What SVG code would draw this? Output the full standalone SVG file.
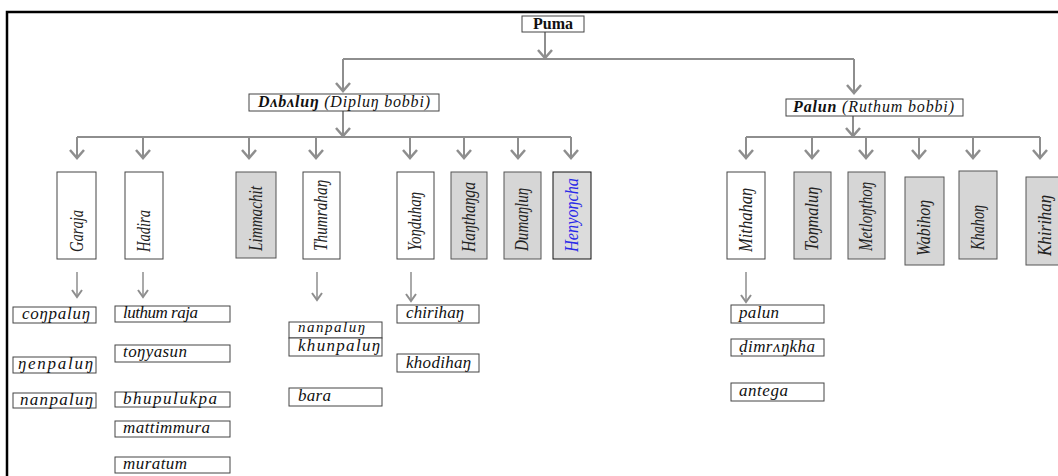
<svg xmlns="http://www.w3.org/2000/svg" width="1058" height="476" viewBox="0 0 1058 476">
<defs>
<style>
.frame{stroke:#000;stroke-width:2.5;fill:none}
.box{fill:#fff;stroke:#444;stroke-width:1}
.gbox{fill:#d6d6d6;stroke:#555;stroke-width:1}
.conn{stroke:#8e8e8e;stroke-width:2;fill:none}
.conn2{stroke:#8e8e8e;stroke-width:1.5;fill:none}
.ttl{font-family:"Liberation Serif",serif;font-size:16px;fill:#111}
.vt{font-family:"Liberation Serif",serif;font-style:italic;font-size:18px;fill:#222}
.lt{font-family:"Liberation Serif",serif;font-style:italic;font-size:17px;fill:#111}
</style>
<marker id="ah" markerUnits="userSpaceOnUse" markerWidth="20" markerHeight="20" viewBox="-10 -10 20 20" refX="0" refY="0" orient="auto" overflow="visible">
<path d="M-8,-7 L0,0 L-8,7" fill="none" stroke="#8e8e8e" stroke-width="2.5"/>
</marker>
<marker id="ah2" markerUnits="userSpaceOnUse" markerWidth="20" markerHeight="20" viewBox="-10 -10 20 20" refX="0" refY="0" orient="auto" overflow="visible">
<path d="M-7,-5 L0,0 L-7,5" fill="none" stroke="#8e8e8e" stroke-width="2"/>
</marker>
</defs>
<rect width="1058" height="476" fill="#fff"/>
<path class="frame" d="M7,478 V12 H1060"/>

<g id="connectors">
<path class="conn" d="M545,32 V58" marker-end="url(#ah)"/>
<path class="conn" d="M343,59 H854"/>
<path class="conn" d="M343,59 V91" marker-end="url(#ah)"/>
<path class="conn" d="M854,59 V93" marker-end="url(#ah)"/>
<path class="conn" d="M343,111 V136" marker-end="url(#ah)"/>
<path class="conn" d="M77,137 H571"/>
<path class="conn" d="M77,137 V158" marker-end="url(#ah)"/>
<path class="conn" d="M143,137 V158" marker-end="url(#ah)"/>
<path class="conn" d="M249,137 V158" marker-end="url(#ah)"/>
<path class="conn" d="M316,137 V158" marker-end="url(#ah)"/>
<path class="conn" d="M410,137 V158" marker-end="url(#ah)"/>
<path class="conn" d="M464,137 V158" marker-end="url(#ah)"/>
<path class="conn" d="M518,137 V158" marker-end="url(#ah)"/>
<path class="conn" d="M571,137 V158" marker-end="url(#ah)"/>
<path class="conn" d="M853,116 V136" marker-end="url(#ah)"/>
<path class="conn" d="M746,137 H1040"/>
<path class="conn" d="M746,137 V158" marker-end="url(#ah)"/>
<path class="conn" d="M812,137 V158" marker-end="url(#ah)"/>
<path class="conn" d="M866,137 V158" marker-end="url(#ah)"/>
<path class="conn" d="M919,137 V158" marker-end="url(#ah)"/>
<path class="conn" d="M973,137 V158" marker-end="url(#ah)"/>
<path class="conn" d="M1040,137 V158" marker-end="url(#ah)"/>
<path class="conn2" d="M77,272 V297" marker-end="url(#ah2)"/>
<path class="conn2" d="M143,272 V297" marker-end="url(#ah2)"/>
<path class="conn2" d="M317,272 V300" marker-end="url(#ah2)"/>
<path class="conn2" d="M411,272 V301" marker-end="url(#ah2)"/>
<path class="conn2" d="M746,272 V302" marker-end="url(#ah2)"/>
</g>

<g id="puma"><rect class="box" x="522" y="16" width="62" height="16"/><text class="ttl" x="553" y="29" text-anchor="middle" font-weight="bold">Puma</text></g>
<g id="dabalun"><rect class="box" x="249" y="94" width="190" height="17"/><text class="ttl" x="258" y="107" font-style="italic" textLength="172" lengthAdjust="spacing"><tspan font-weight="bold">Dʌbʌluŋ</tspan> (Dipluŋ bobbi)</text></g>
<g id="palun"><rect class="box" x="786" y="99" width="177" height="17"/><text class="ttl" x="793" y="112" font-style="italic" textLength="161" lengthAdjust="spacing"><tspan font-weight="bold">Palun</tspan> (Ruthum bobbi)</text></g>

<g id="garaja"><rect class="box" x="57" y="172" width="39" height="87"/><text class="vt" transform="translate(83,252) rotate(-90)" textLength="42" lengthAdjust="spacingAndGlyphs">Garaja</text></g>
<g id="hadira"><rect class="box" x="125" y="172" width="38" height="87"/><text class="vt" transform="translate(150,252) rotate(-90)" textLength="42" lengthAdjust="spacingAndGlyphs">Hadira</text></g>
<g id="limmachit"><rect class="gbox" x="236" y="172" width="40" height="86"/><text class="vt" transform="translate(262,251) rotate(-90)" textLength="65" lengthAdjust="spacingAndGlyphs">Limmachit</text></g>
<g id="thumrahan"><rect class="box" x="303" y="172" width="37" height="87"/><text class="vt" transform="translate(327,251) rotate(-90)" textLength="71" lengthAdjust="spacingAndGlyphs">Thumrahaŋ</text></g>
<g id="yonduhan"><rect class="box" x="397" y="172" width="37" height="87"/><text class="vt" transform="translate(421,251) rotate(-90)" textLength="59" lengthAdjust="spacingAndGlyphs">Yoŋduhaŋ</text></g>
<g id="hanthanga"><rect class="gbox" x="451" y="172" width="36" height="87"/><text class="vt" transform="translate(475,252) rotate(-90)" textLength="70" lengthAdjust="spacingAndGlyphs">Haŋthaŋga</text></g>
<g id="dumanlun"><rect class="gbox" x="504" y="172" width="37" height="87"/><text class="vt" transform="translate(528,251) rotate(-90)" textLength="63" lengthAdjust="spacingAndGlyphs">Dumaŋluŋ</text></g>
<g id="henyoncha"><rect x="553" y="172" width="38" height="87" fill="#dcdcdc" stroke="#111" stroke-width="1"/><text class="vt" transform="translate(578,252) rotate(-90)" textLength="74" lengthAdjust="spacingAndGlyphs" style="fill:#2a2ae8">Henyoŋcha</text></g>

<g id="mithahan"><rect class="box" x="727" y="172" width="38" height="87"/><text class="vt" transform="translate(752,252) rotate(-90)" textLength="64" lengthAdjust="spacingAndGlyphs">Mithahaŋ</text></g>
<g id="tonmalun"><rect class="gbox" x="794" y="172" width="37" height="87" stroke="#222"/><text class="vt" transform="translate(818,251) rotate(-90)" textLength="64" lengthAdjust="spacingAndGlyphs">Toŋmaluŋ</text></g>
<g id="metlonthon"><rect class="gbox" x="848" y="172" width="37" height="87"/><text class="vt" transform="translate(872,251) rotate(-90)" textLength="69" lengthAdjust="spacingAndGlyphs">Metloŋthoŋ</text></g>
<g id="wabihon"><rect class="gbox" x="905" y="177" width="39" height="88"/><text class="vt" transform="translate(930,256) rotate(-90)" textLength="56" lengthAdjust="spacingAndGlyphs">Wabihoŋ</text></g>
<g id="khahon"><rect class="gbox" x="959" y="171" width="38" height="88"/><text class="vt" transform="translate(984,250) rotate(-90)" textLength="45" lengthAdjust="spacingAndGlyphs">Khahoŋ</text></g>
<g id="khirihan"><rect class="gbox" x="1026" y="177" width="40" height="88"/><text class="vt" transform="translate(1051,256) rotate(-90)" textLength="61" lengthAdjust="spacingAndGlyphs">Khirihaŋ</text></g>

<g id="leaf-conpalun"><rect class="box" x="13" y="307" width="83" height="16"/><text class="lt" x="22" y="319" textLength="68" lengthAdjust="spacing">coŋpaluŋ</text></g>
<g id="leaf-nenpalun"><rect class="box" x="13" y="357" width="83" height="16"/><text class="lt" x="18" y="369" textLength="75" lengthAdjust="spacing">ŋenpaluŋ</text></g>
<g id="leaf-nanpalun1"><rect class="box" x="13" y="393" width="83" height="15"/><text class="lt" x="20" y="405" textLength="73" lengthAdjust="spacing">nanpaluŋ</text></g>
<g id="leaf-luthumraja"><rect class="box" x="115" y="306" width="115" height="16"/><text class="lt" x="123" y="318" textLength="75" lengthAdjust="spacing">luthum raja</text></g>
<g id="leaf-tonyasun"><rect class="box" x="115" y="345" width="115" height="17"/><text class="lt" x="123" y="357" textLength="64" lengthAdjust="spacing">toŋyasun</text></g>
<g id="leaf-bhupulukpa"><rect class="box" x="115" y="392" width="115" height="15"/><text class="lt" x="123" y="404" textLength="94" lengthAdjust="spacing">bhupulukpa</text></g>
<g id="leaf-mattimmura"><rect class="box" x="115" y="421" width="115" height="16"/><text class="lt" x="123" y="433" textLength="87" lengthAdjust="spacing">mattimmura</text></g>
<g id="leaf-muratum"><rect class="box" x="115" y="457" width="115" height="16"/><text class="lt" x="123" y="469" textLength="64" lengthAdjust="spacing">muratum</text></g>
<g id="leaf-nanpalun2"><rect class="box" x="289" y="322" width="93" height="16"/><text class="lt" x="298" y="332" font-size="15" style="font-size:15px" textLength="67" lengthAdjust="spacing">nanpaluŋ</text></g>
<g id="leaf-khunpalun"><rect class="box" x="289" y="338" width="93" height="18"/><text class="lt" x="298" y="351" textLength="82" lengthAdjust="spacing">khunpaluŋ</text></g>
<g id="leaf-bara"><rect class="box" x="289" y="388" width="93" height="18"/><text class="lt" x="298" y="401" textLength="33" lengthAdjust="spacing">bara</text></g>
<g id="leaf-chirihan"><rect class="box" x="397" y="305" width="82" height="18"/><text class="lt" x="406" y="318" textLength="58" lengthAdjust="spacing">chirihaŋ</text></g>
<g id="leaf-khodihan"><rect class="box" x="397" y="354" width="82" height="18"/><text class="lt" x="406" y="368" textLength="65" lengthAdjust="spacing">khodihaŋ</text></g>
<g id="leaf-palun"><rect class="box" x="731" y="305" width="93" height="18"/><text class="lt" x="739" y="318" textLength="40" lengthAdjust="spacing">palun</text></g>
<g id="leaf-dimrankha"><rect class="box" x="731" y="339" width="93" height="17"/><text class="lt" x="739" y="352" textLength="76" lengthAdjust="spacing">ḍimrʌŋkha</text></g>
<g id="leaf-antega"><rect class="box" x="731" y="383" width="93" height="18"/><text class="lt" x="739" y="396" textLength="49" lengthAdjust="spacing">antega</text></g>
</svg>
